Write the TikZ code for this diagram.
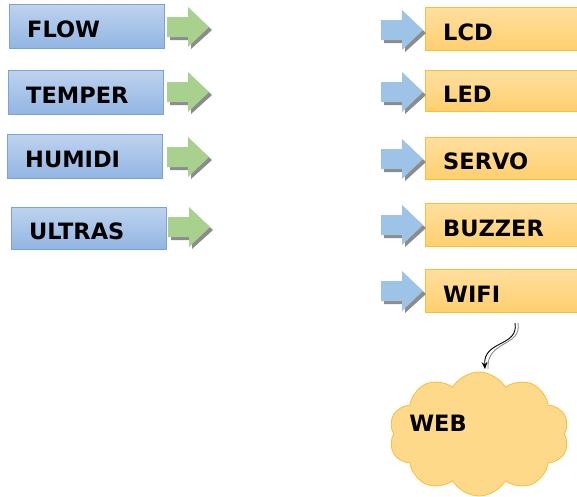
\documentclass[tikz,border=0pt]{standalone}
\usepackage{fontspec}
\setmainfont{DejaVu Sans}
\usetikzlibrary{shapes.symbols,arrows.meta}
\definecolor{bluetop}{HTML}{BDD3EE}
\definecolor{bluebot}{HTML}{92B5E3}
\definecolor{blueline}{HTML}{7AA3D8}
\definecolor{orgtop}{HTML}{FFDF9E}
\definecolor{orgbot}{HTML}{FFCF6E}
\definecolor{orgline}{HTML}{F7BE3A}
\definecolor{greenarr}{HTML}{A9D18E}
\definecolor{bluearr}{HTML}{9DC3E6}
\definecolor{shadowgray}{HTML}{8C8C8C}
\definecolor{cloudfill}{HTML}{FFD98A}
\tikzset{
  bluebox/.style={draw=blueline, line width=1pt, top color=bluetop, bottom color=bluebot,
    minimum width=155pt, minimum height=44pt, anchor=north west, inner sep=0pt},
  orgbox/.style={draw=orgline, line width=1pt, top color=orgtop, bottom color=orgbot,
    minimum width=170pt, minimum height=43pt, anchor=north west, inner sep=0pt},
  boxtext/.style={font=\fontsize{22.5}{26}\selectfont\bfseries, inner sep=0pt, anchor=west,
    xshift=18pt, yshift=-3pt, text=black},
}
\newcommand\fatarrow[3]{%
  \coordinate (#1) at #2;
  \begin{scope}[shift={(#1)}]
    \fill[shadowgray] (-39,-7) -- (-18,-7) -- (-18,-16) -- (3,3) -- (-18,22) -- (-18,13) -- (-39,13) -- cycle;
    \fill[#3] (-42,-10) -- (-21,-10) -- (-21,-20) -- (0,0) -- (-21,20) -- (-21,10) -- (-42,10) -- cycle;
  \end{scope}}
\begin{document}
\begin{tikzpicture}[x=1pt,y=-1pt]
\useasboundingbox[fill=white] (0,0) rectangle (577,496);
% left boxes
\node[bluebox, label={[boxtext]west:FLOW}] (flow) at (9,4) {};
\node[bluebox, label={[boxtext]west:TEMPER}] (temper) at (8,70) {};
\node[bluebox, label={[boxtext]west:HUMIDI}] (humidi) at (7,134) {};
\node[bluebox, label={[boxtext]west:ULTRAS}, minimum height=42pt] (ultras) at (11,207) {};
% green arrows
\fatarrow{ga1}{(209,27)}{greenarr}
\fatarrow{ga2}{(209,92)}{greenarr}
\fatarrow{ga3}{(209,157)}{greenarr}
\fatarrow{ga4}{(210,227)}{greenarr}
% right boxes
\node[orgbox, label={[boxtext]west:LCD}] (lcd) at (425,7) {};
\node[orgbox, label={[boxtext]west:LED}, minimum height=41pt] (led) at (425,70) {};
\node[orgbox, label={[boxtext]west:SERVO}, minimum height=42pt] (servo) at (425,137) {};
\node[orgbox, label={[boxtext]west:BUZZER}] (buzzer) at (425,203) {};
\node[orgbox, label={[boxtext]west:WIFI}] (wifi) at (425,269) {};
% blue arrows
\fatarrow{ba1}{(423,30)}{bluearr}
\fatarrow{ba2}{(423,92)}{bluearr}
\fatarrow{ba3}{(423,159)}{bluearr}
\fatarrow{ba4}{(423,225)}{bluearr}
\fatarrow{ba5}{(423,291)}{bluearr}
% cloud
\node[cloud, cloud puffs=10, cloud puff arc=120, aspect=1.45, draw=orgline, fill=cloudfill,
  line width=0.8pt, minimum width=180pt, minimum height=124pt, inner sep=0pt] (web) at (479,434) {};
\node[font=\fontsize{22.5}{26}\selectfont\bfseries, inner sep=0pt] (webtext) at (438,423) {WEB};
% squiggle arrow
\coordinate (sqa) at (515,323);
\coordinate (sqb) at (485,369);
\draw[shadowgray, line width=0.9pt] ([xshift=3pt]sqa) .. controls (522,347) and (486,340) .. ([xshift=3pt]sqb);
\draw[black, line width=0.9pt, -{Stealth[length=7pt,width=6pt]}] (sqa) .. controls (519,347) and (483,340) .. (sqb);
\end{tikzpicture}
\end{document}
